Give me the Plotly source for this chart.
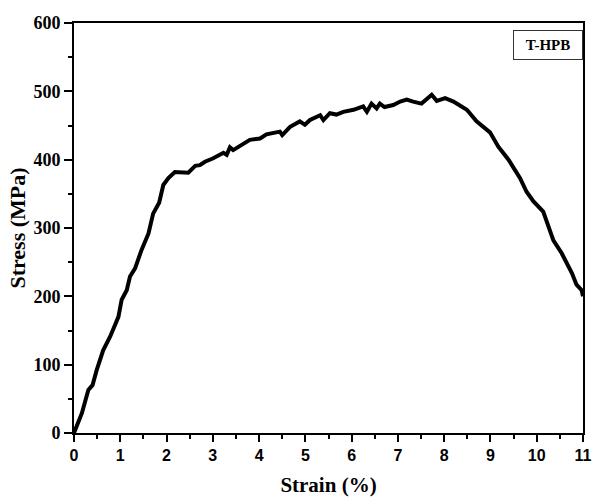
import plotly.graph_objects as go

strain = [0.0, 0.17, 0.31, 0.40, 0.49, 0.63, 0.78, 0.96, 1.03, 1.14, 1.21, 1.32, 1.46, 1.61,
          1.71, 1.84, 1.93, 2.04, 2.18, 2.47, 2.62, 2.72, 2.83, 3.01, 3.23, 3.30, 3.37, 3.44,
          3.80, 4.02, 4.16, 4.45, 4.50, 4.67, 4.88, 4.99, 5.10, 5.32, 5.39, 5.53, 5.67, 5.82,
          6.04, 6.25, 6.33, 6.43, 6.54, 6.61, 6.71, 6.90, 7.05, 7.19, 7.33, 7.51, 7.73, 7.84,
          8.02, 8.20, 8.49, 8.70, 8.99, 9.17, 9.39, 9.64, 9.78, 9.93, 10.14, 10.36, 10.54,
          10.76, 10.86, 10.97, 11.0]
stress = [0, 29, 63, 70, 92, 121, 141, 170, 195, 209, 229, 241, 268, 292,
          321, 337, 363, 373, 382, 381, 391, 392, 397, 402, 410, 407, 418, 414,
          429, 431, 437, 441, 436, 448, 456, 451, 458, 465, 458, 468, 466, 470,
          473, 478, 470, 482, 475, 482, 477, 480, 485, 488, 485, 482, 495, 486,
          490, 485, 473, 456, 440, 419, 400, 373, 353, 339, 324, 282, 263,
          234, 217, 209, 200]

x_ticks = list(range(0, 12))
y_ticks = list(range(0, 700, 100))
label = "T-HPB"

fig = go.Figure()
fig.add_trace(go.Scatter(x=strain, y=stress, mode="lines",
                         line=dict(color="black", width=4), showlegend=False))

serif = "Liberation Serif"
sans = "Liberation Sans"

fig.update_layout(
    width=592, height=497,
    margin=dict(l=74, r=9, t=23, b=64),
    paper_bgcolor="white", plot_bgcolor="white",
    xaxis=dict(range=[0, 11], tickvals=x_ticks, ticktext=[str(v) for v in x_ticks],
               automargin=False,
               showline=True, linecolor="black", linewidth=2, mirror=True,
               ticks="outside", ticklen=7, tickwidth=2, tickcolor="black",
               minor=dict(dtick=0.5, ticks="outside", ticklen=4, tickwidth=2, tickcolor="black"),
               showgrid=False, zeroline=False,
               tickfont=dict(family=sans, size=16, color="black", weight="bold"),
               title=dict(text="<b>Strain (%)</b>", font=dict(family=serif, size=21, color="black"),
                          standoff=16)),
    yaxis=dict(range=[0, 600], tickvals=y_ticks, ticktext=[str(v) for v in y_ticks],
               automargin=False,
               showline=True, linecolor="black", linewidth=2, mirror=True,
               ticks="outside", ticklen=8, tickwidth=2, tickcolor="black",
               minor=dict(dtick=50, ticks="outside", ticklen=4, tickwidth=2, tickcolor="black"),
               showgrid=False, zeroline=False,
               tickfont=dict(family=serif, size=18, color="black", weight="bold"),
               title=dict(text="<b>Stress (MPa)</b>", font=dict(family=serif, size=22, color="black"),
                          standoff=2)),
    annotations=[dict(text="<b>%s</b>" % label, xref="paper", yref="paper",
                      x=1, y=0.983, xanchor="right", yanchor="top", showarrow=False,
                      font=dict(family=serif, size=15, color="black"),
                      bordercolor="#333", borderwidth=1, width=66, height=26,
                      bgcolor="white")],
)

fig.write_html("out.html")
